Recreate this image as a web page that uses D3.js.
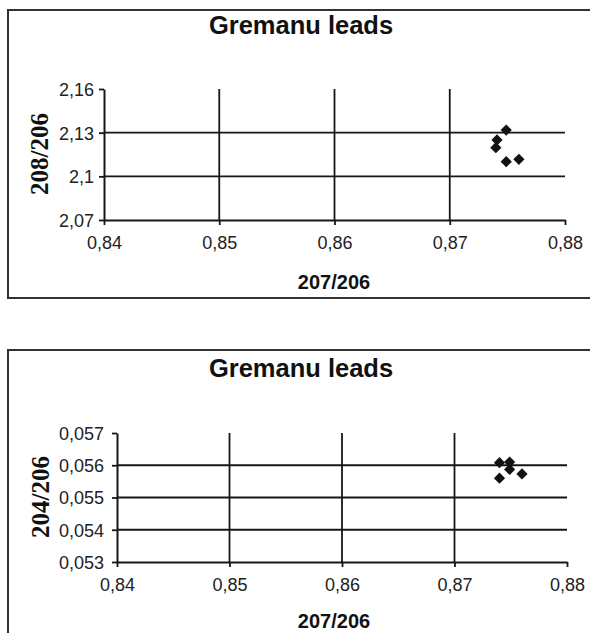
<!DOCTYPE html>
<html>
<head>
<meta charset="utf-8">
<script src="https://cdn.jsdelivr.net/npm/d3@7"></script>
<style>
  html, body { margin: 0; padding: 0; background: #fff; }
  svg { display: block; }
</style>
</head>
<body>
<svg id="chart" width="590" height="633"></svg>
<script>
// ---- Data ----
const chartTitle = "Gremanu leads";
const xTitle = "207/206";
const xTicks = [0.84, 0.85, 0.86, 0.87, 0.88];

// Top chart: 208/206 vs 207/206
const topYTitle = "208/206";
const topYTicks = [2.07, 2.1, 2.13, 2.16];
const topX = [0.8749, 0.8741, 0.8740, 0.8749, 0.8760];
const topY = [2.1318, 2.1250, 2.1197, 2.1101, 2.1117];

// Bottom chart: 204/206 vs 207/206
const botYTitle = "204/206";
const botYTicks = [0.053, 0.054, 0.055, 0.056, 0.057];
const botX = [0.8740, 0.8749, 0.8749, 0.8740, 0.8760];
const botY = [0.05608, 0.05610, 0.05587, 0.05560, 0.05573];

// ---- Drawing ----
const loc = d3.formatLocale({decimal: ",", thousands: ".", grouping: [3], currency: ["", ""]});
const fmt = loc.format("~g");
const svg = d3.select("#chart");
const ink = "#161616";

function drawChart(cfg) {
  const g = svg.append("g");
  // frame
  g.append("rect")
    .attr("x", cfg.frame[0]).attr("y", cfg.frame[1])
    .attr("width", cfg.frame[2]).attr("height", cfg.frame[3])
    .attr("fill", "#fff").attr("stroke", "#333").attr("stroke-width", 2);

  const x = d3.scaleLinear().domain([xTicks[0], xTicks[xTicks.length - 1]]).range([cfg.left, cfg.right]);
  const y = d3.scaleLinear().domain([cfg.yTicks[0], cfg.yTicks[cfg.yTicks.length - 1]]).range([cfg.bottom, cfg.top]);

  // horizontal gridlines (inner ticks)
  g.append("g").selectAll("line")
    .data(cfg.yTicks.slice(1, -1)).join("line")
    .attr("x1", cfg.left).attr("x2", cfg.right)
    .attr("y1", d => y(d)).attr("y2", d => y(d))
    .attr("stroke", ink).attr("stroke-width", 1.8);
  // vertical gridlines
  g.append("g").selectAll("line")
    .data(xTicks.slice(1, -1)).join("line")
    .attr("x1", d => x(d)).attr("x2", d => x(d))
    .attr("y1", cfg.top).attr("y2", cfg.bottom)
    .attr("stroke", ink).attr("stroke-width", 1.8);

  // axes
  const xAxis = d3.axisBottom(x).tickValues(xTicks).tickFormat(fmt).tickSize(5).tickSizeOuter(0).tickPadding(7);
  const yAxis = d3.axisLeft(y).tickValues(cfg.yTicks).tickFormat(fmt).tickSize(5).tickSizeOuter(0).tickPadding(cfg.yPad);
  const gx = g.append("g").attr("transform", `translate(0,${cfg.bottom})`).call(xAxis);
  const gy = g.append("g").attr("transform", `translate(${cfg.left},0)`).call(yAxis);
  [gx, gy].forEach(a => {
    a.select(".domain").attr("stroke", ink).attr("stroke-width", 2);
    a.selectAll(".tick line").attr("stroke", ink).attr("stroke-width", 1.8);
    a.selectAll(".tick text")
      .attr("fill", "#222")
      .style("font-family", "'Liberation Sans', Arial, sans-serif")
      .style("font-size", "18px");
  });
  gx.selectAll(".tick text").attr("dy", "0.95em");
  gy.selectAll(".tick text").attr("dy", "0.36em");

  // points (diamonds)
  const sym = d3.symbol().type(d3.symbolDiamond2).size(80);
  g.append("g").selectAll("path")
    .data(cfg.xs.map((v, i) => [v, cfg.ys[i]])).join("path")
    .attr("transform", d => `translate(${x(d[0])},${y(d[1])})`)
    .attr("d", sym).attr("fill", "#111");

  // titles
  g.append("text")
    .attr("x", 301).attr("y", cfg.titleY)
    .attr("text-anchor", "middle").attr("dominant-baseline", "central")
    .style("font-family", "'Liberation Sans', Arial, sans-serif")
    .style("font-weight", "bold").style("font-size", "25.5px")
    .attr("fill", "#111")
    .text(chartTitle);
  g.append("text")
    .attr("x", 334).attr("y", cfg.bottom + cfg.xTitleOff)
    .attr("text-anchor", "middle").attr("dominant-baseline", "central")
    .style("font-family", "'Liberation Sans', Arial, sans-serif")
    .style("font-weight", "bold").style("font-size", "20px")
    .attr("fill", "#111")
    .text(xTitle);
  g.append("text")
    .attr("transform", `translate(${cfg.yTitleX},${cfg.yTitleY}) rotate(-90)`)
    .attr("text-anchor", "middle").attr("dominant-baseline", "central")
    .style("font-family", "'Liberation Serif', 'Times New Roman', serif")
    .style("font-weight", "bold").style("font-size", "25px")
    .attr("fill", "#111")
    .text(cfg.yTitle);
}

drawChart({
  frame: [8, 10, 600, 288],
  left: 104, right: 565, top: 89, bottom: 220,
  yTicks: topYTicks, xs: topX, ys: topY, yPad: 5,
  titleY: 25, yTitle: topYTitle, yTitleX: 39, yTitleY: 154, xTitleOff: 62
});
drawChart({
  frame: [8, 350, 600, 300],
  left: 117, right: 567, top: 433, bottom: 562,
  yTicks: botYTicks, xs: botX, ys: botY, yPad: 8,
  titleY: 368, yTitle: botYTitle, yTitleX: 40, yTitleY: 497, xTitleOff: 59
});
</script>
</body>
</html>
